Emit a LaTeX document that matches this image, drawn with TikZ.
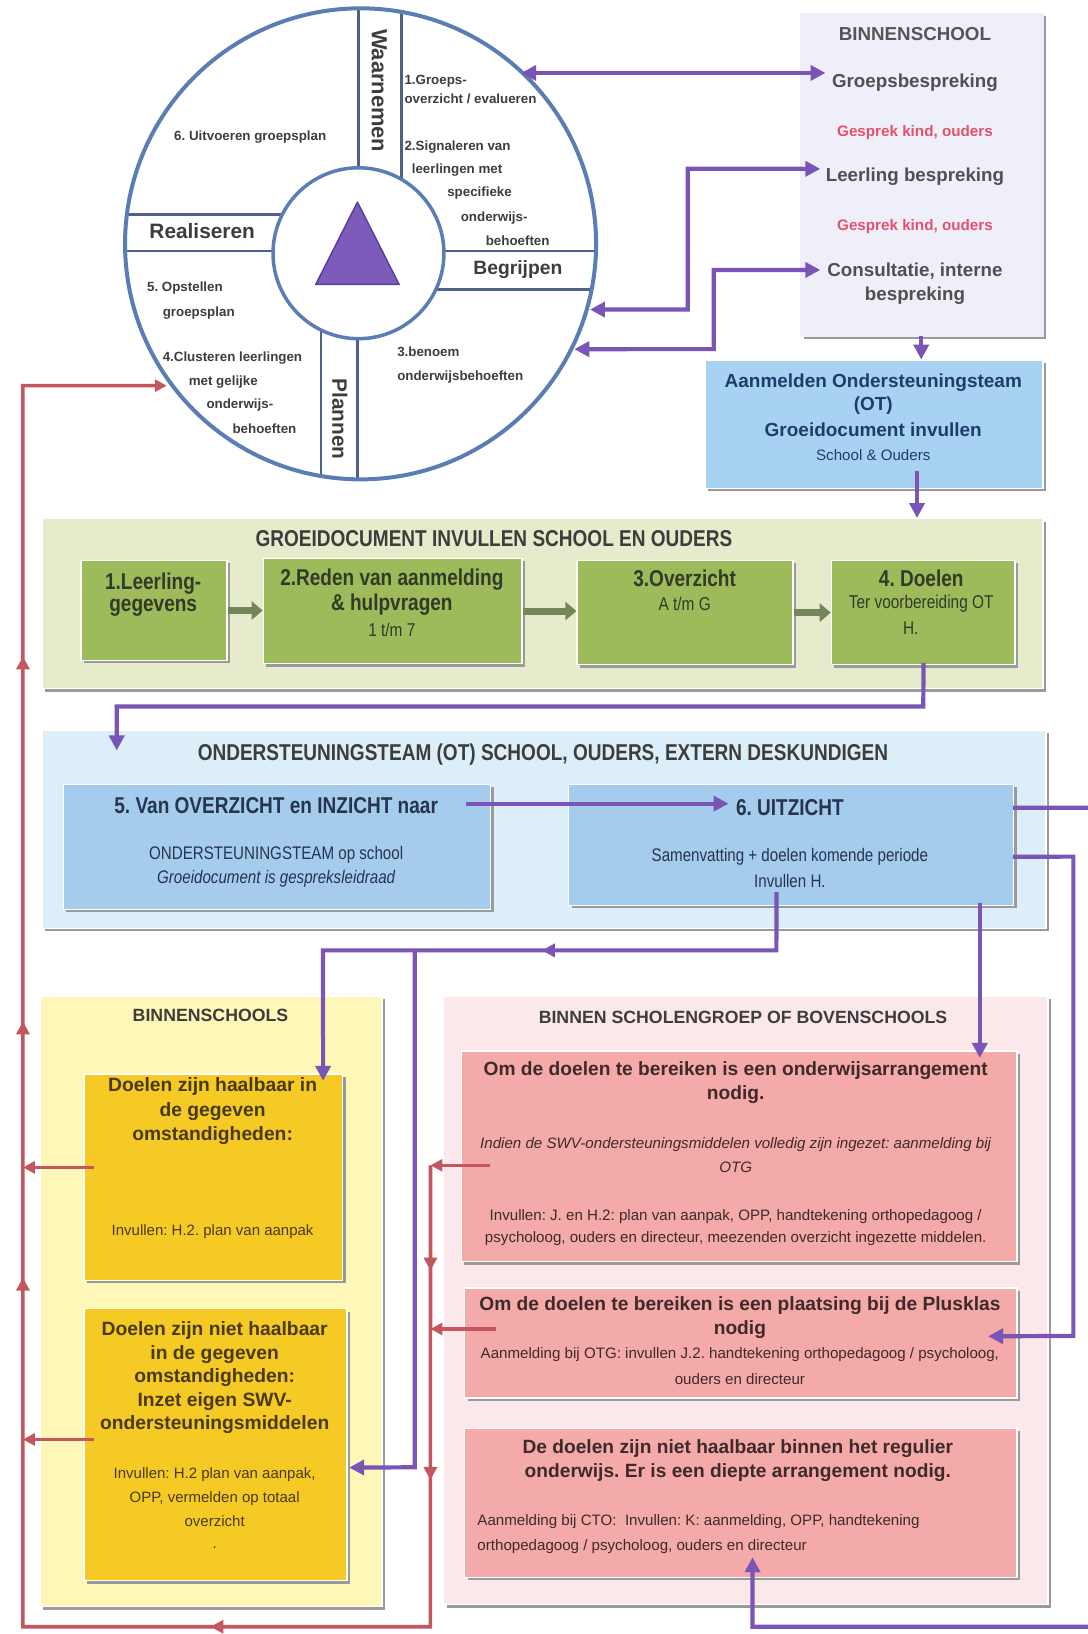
\documentclass[tikz,border=0pt]{standalone}
\usepackage{fontspec}
\setmainfont{Liberation Sans}
\newfontfamily\narrowfont[FakeStretch=0.83]{Liberation Sans}
\usetikzlibrary{arrows.meta,shadows,decorations.markings}
\definecolor{circblue}{HTML}{5A7DB3}
\definecolor{spokecol}{HTML}{4E6085}
\definecolor{purp}{HTML}{7A55B6}
\definecolor{redl}{HTML}{C4565F}
\definecolor{lav}{HTML}{EFEFFA}
\definecolor{aanblue}{HTML}{A7D2F1}
\definecolor{gdsec}{HTML}{E6EBCC}
\definecolor{gbox}{HTML}{9DBB5A}
\definecolor{garr}{HTML}{73865A}
\definecolor{otsec}{HTML}{DDEEFB}
\definecolor{otbox}{HTML}{A5CCEC}
\definecolor{ysec}{HTML}{FFF7B8}
\definecolor{ybox}{HTML}{F6CA24}
\definecolor{psec}{HTML}{FBE8EB}
\definecolor{pboxc}{HTML}{F3AAA8}
\definecolor{shgray}{HTML}{9A9A9A}
\definecolor{tgray}{HTML}{3D3D3D}
\definecolor{bgray}{HTML}{555555}
\definecolor{pinktxt}{HTML}{E4516C}
\definecolor{navy}{HTML}{1F3D6B}
\definecolor{ottxt}{HTML}{26344F}
\definecolor{ytxt}{HTML}{4A3A14}
\definecolor{ptxt}{HTML}{3F2A2A}
\definecolor{gtxt}{HTML}{343A28}
\definecolor{tripurp}{HTML}{7C5BBA}
\definecolor{tridark}{HTML}{5A3E98}
\newcommand\myfs[1]{\fontsize{#1}{#1}\selectfont}
\tikzset{
  panel/.style={draw=white, line width=1.5pt, inner sep=0pt, anchor=north west,
    drop shadow={shadow xshift=3pt, shadow yshift=-3pt, fill=shgray, opacity=1}},
  tx/.style={inner sep=0pt, text=tgray},
  cw/.style={tx, anchor=west, font=\bfseries\myfs{12.8}},
  bandlbl/.style={tx, font=\bfseries\myfs{20}},
  spoke/.style={draw=spokecol, line width=2.6pt},
  pline/.style={draw=purp, line width=4.2pt},
  ptip/.style={-{Triangle[length=15pt,width=15pt]}},
  pboth/.style={{Triangle[length=15pt,width=15pt]}-{Triangle[length=15pt,width=15pt]}},
  rline/.style={draw=redl, line width=3.6pt},
  rtip/.style={-{Triangle[length=12pt,width=12pt]}},
  garrow/.style={draw=garr, line width=7pt, -{Triangle[length=11pt,width=18pt]}},
  bintx/.style={tx, font=\bfseries\myfs{18}, text=tgray!90},
  gesp/.style={tx, font=\bfseries\myfs{14.6}, text=pinktxt},
  aantx/.style={tx, font=\bfseries\myfs{18.2}, text=navy},
  sectitle/.style={tx, font=\narrowfont\bfseries\myfs{22}},
  ghead/.style={tx, font=\narrowfont\bfseries\myfs{22}, text=gtxt},
  gsub/.style={tx, font=\narrowfont\myfs{17.8}, text=gtxt},
  othead/.style={tx, font=\narrowfont\bfseries\myfs{22}, text=ottxt},
  otsub/.style={tx, font=\narrowfont\myfs{17.5}, text=ottxt},
  yhead/.style={tx, font=\bfseries\myfs{18.5}, text=ytxt},
  ysub/.style={tx, font=\myfs{14.4}, text=ytxt},
  phead/.style={tx, font=\bfseries\myfs{18.4}, text=ptxt},
  psub/.style={tx, font=\myfs{14.5}, text=ptxt},
  marr/.style={postaction={decorate, decoration={markings,
     mark=at position #1 with {\arrow{Triangle[length=13pt,width=13pt]}}}}},
}
\begin{document}
\frenchspacing
\begin{tikzpicture}[x=1pt,y=-1pt,scale=1.04209,transform shape]
\useasboundingbox (0,0) rectangle (1044.05,1568);
\clip (0,0) rectangle (1044.05,1568);
\fill[white] (0,0) rectangle (1044.05,1568);

% ---------------- circle ----------------
\begin{scope}
  \clip (346,234) circle[radius=226];
  \draw[spoke] (344,0) -- (344,243);
  \draw[spoke] (385,0) -- (385,243);
  \draw[spoke] (308,243) -- (308,480);
  \draw[spoke] (343,243) -- (343,480);
  \draw[spoke] (100,206) -- (344,206);
  \draw[spoke] (100,241) -- (600,241);
  \draw[spoke] (344,278) -- (600,278);
\end{scope}
\node[circle, draw=circblue, line width=3.5pt, fill=white, minimum size=164pt, inner sep=0pt] (inner) at (344,243) {};
\filldraw[fill=tripurp, draw=tridark, line width=1.5pt, line join=round] (343,194) -- (303,273) -- (383,273) -- cycle;
\node[circle, draw=circblue, line width=4pt, minimum size=452pt, inner sep=0pt] (outer) at (346,234) {};

\node[bandlbl, rotate=-90, font=\bfseries\myfs{21}] (waar) at (364,87) {Waarnemen};
\node[bandlbl, rotate=-90] (plan) at (326,402) {Plannen};
\node[bandlbl] (real) at (194,222) {Realiseren};
\node[bandlbl, font=\bfseries\myfs{18.5}] (begr) at (497,259) {Begrijpen};

\node[cw] (c1a) at (388,78) {1.Groeps-};
\node[cw] (c1b) at (388,95) {overzicht / evalueren};
\node[cw] (c2a) at (388,141) {2.Signaleren van};
\node[cw] (c2b) at (395,163) {leerlingen met};
\node[cw] (c2c) at (429,185) {specifieke};
\node[cw] (c2d) at (442,209) {onderwijs-};
\node[cw] (c2e) at (466,231) {behoeften};
\node[cw] (c3a) at (381,338) {3.benoem};
\node[cw] (c3b) at (381,362) {onderwijsbehoeften};
\node[cw] (c4a) at (156,344) {4.Clusteren leerlingen};
\node[cw] (c4b) at (181,367) {met gelijke};
\node[cw] (c4c) at (198,389) {onderwijs-};
\node[cw] (c4d) at (223,411) {behoeften};
\node[cw] (c5a) at (141,276) {5. Opstellen};
\node[cw] (c5b) at (156,300) {groepsplan};
\node[cw] (c6) at (167,132) {6. Uitvoeren groepsplan};

% ---------------- BINNENSCHOOL ----------------
\node[panel, fill=lav, draw=lav, minimum width=232pt, minimum height=310pt] (bin) at (768,12) {};
\node[tx, font=\bfseries\myfs{18}, text=bgray] (bint) at (878,33) {BINNENSCHOOL};
\node[bintx] (gb) at (878,79) {Groepsbespreking};
\node[gesp] (gk1) at (878,127) {Gesprek kind, ouders};
\node[bintx] (lb) at (878,170) {Leerling bespreking};
\node[gesp] (gk2) at (878,217) {Gesprek kind, ouders};
\node[bintx, align=center, font=\bfseries\fontsize{18}{23}\selectfont] (co) at (878,272) {Consultatie, interne\\bespreking};

% ---------------- Aanmelden ----------------
\node[panel, fill=aanblue, minimum width=324pt, minimum height=123pt] (aan) at (676,345) {};
\node[aantx] (aan1) at (838,367) {Aanmelden Ondersteuningsteam};
\node[aantx] (aan2) at (838,389) {(OT)};
\node[aantx] (aan3) at (838,412) {Groeidocument invullen};
\node[tx, font=\myfs{14.5}, text=navy] (aan4) at (838,437) {School \& Ouders};

% ---------------- GROEIDOCUMENT ----------------
\node[panel, fill=gdsec, minimum width=960pt, minimum height=163pt] (gd) at (40,497) {};
\node[sectitle] (gdt) at (474,517) {GROEIDOCUMENT INVULLEN SCHOOL EN OUDERS};
\node[panel, fill=gbox, minimum width=140pt, minimum height=96pt] (g1) at (77,537) {};
\node[panel, fill=gbox, minimum width=248pt, minimum height=101pt] (g2) at (252,535) {};
\node[panel, fill=gbox, minimum width=207pt, minimum height=100pt] (g3) at (553,537) {};
\node[panel, fill=gbox, minimum width=176pt, minimum height=100pt] (g4) at (797,537) {};
\node[ghead] (g1a) at (147,560) {1.Leerling-};
\node[ghead] (g1b) at (147,583) {gegevens};
\node[ghead] (g2a) at (376,556) {2.Reden van aanmelding};
\node[ghead] (g2b) at (376,580) {\& hulpvragen};
\node[gsub] (g2c) at (376,604) {1 t/m 7};
\node[ghead] (g3a) at (657,555) {3.Overzicht};
\node[gsub] (g3b) at (657,579) {A t/m G};
\node[ghead] (g4a) at (884,555) {4. Doelen};
\node[gsub] (g4b) at (884,579) {Ter voorbereiding OT};
\node[gsub] (g4c) at (874,603) {H.};
\draw[garrow] (g1.east) -- (g1.east -| g2.west);
\draw[garrow] (g2.east) -- (g2.east -| g3.west);
\draw[garrow] (g3.east) -- (g3.east -| g4.west);

% ---------------- OT ----------------
\node[panel, fill=otsec, minimum width=963pt, minimum height=190pt] (ot) at (40,700) {};
\node[sectitle] (ott) at (521,724) {ONDERSTEUNINGSTEAM (OT) SCHOOL, OUDERS, EXTERN DESKUNDIGEN};
\node[panel, fill=otbox, minimum width=410pt, minimum height=120pt] (b5) at (60,752) {};
\node[panel, fill=otbox, minimum width=427pt, minimum height=116pt] (b6) at (545,752) {};
\node[othead] (b5a) at (265,773) {5. Van OVERZICHT en INZICHT naar};
\node[otsub] (b5b) at (265,820) {ONDERSTEUNINGSTEAM op school};
\node[otsub, font=\narrowfont\itshape\myfs{17.5}] (b5c) at (265,843) {Groeidocument is gespreksleidraad};
\node[othead] (b6a) at (758,775) {6. UITZICHT};
\node[otsub] (b6b) at (758,822) {Samenvatting + doelen komende periode};
\node[otsub] (b6c) at (758,845) {Invullen H.};

% ---------------- BINNENSCHOOLS (yellow) ----------------
\node[panel, fill=ysec, minimum width=328pt, minimum height=586pt] (ys) at (38,955) {};
\node[tx, font=\bfseries\myfs{17}] (yst) at (202,974) {BINNENSCHOOLS};
\node[panel, fill=ybox, minimum width=248pt, minimum height=198pt] (y1) at (80,1030) {};
\node[panel, fill=ybox, minimum width=252pt, minimum height=261pt] (y2) at (80,1255) {};
\node[yhead] (y1a) at (204,1043) {Doelen zijn haalbaar in};
\node[yhead] (y1b) at (204,1067) {de gegeven};
\node[yhead] (y1c) at (204,1090) {omstandigheden:};
\node[ysub] (y1d) at (204,1182) {Invullen: H.2. plan van aanpak};
\node[yhead] (y2a) at (206,1277) {Doelen zijn niet haalbaar};
\node[yhead] (y2b) at (206,1300) {in de gegeven};
\node[yhead] (y2c) at (206,1322) {omstandigheden:};
\node[yhead] (y2d) at (206,1345) {Inzet eigen SWV-};
\node[yhead] (y2e) at (206,1367) {ondersteuningsmiddelen};
\node[ysub] (y2f) at (206,1415) {Invullen: H.2 plan van aanpak,};
\node[ysub] (y2g) at (206,1438) {OPP, vermelden op totaal};
\node[ysub] (y2h) at (206,1460) {overzicht};
\node[ysub] (y2i) at (206,1485) {.};

% ---------------- BINNEN SCHOLENGROEP (pink) ----------------
\node[panel, fill=psec, minimum width=580pt, minimum height=584pt] (ps) at (425,955) {};
\node[tx, font=\bfseries\myfs{17}] (pst) at (713,976) {BINNEN SCHOLENGROEP OF BOVENSCHOOLS};
\node[panel, fill=pboxc, minimum width=533pt, minimum height=202pt] (p1) at (442,1008) {};
\node[panel, fill=pboxc, minimum width=530pt, minimum height=106pt] (p2) at (445,1235) {};
\node[panel, fill=pboxc, minimum width=530pt, minimum height=143pt] (p3) at (445,1370) {};
\node[phead] (p1a) at (706,1027) {Om de doelen te bereiken is een onderwijsarrangement};
\node[phead] (p1b) at (706,1050) {nodig.};
\node[psub, font=\itshape\myfs{14.5}] (p1c) at (706,1098) {Indien de SWV-ondersteuningsmiddelen volledig zijn ingezet: aanmelding bij};
\node[psub, font=\itshape\myfs{14.5}] (p1d) at (706,1120) {OTG};
\node[psub] (p1e) at (706,1167) {Invullen: J. en H.2: plan van aanpak, OPP, handtekening orthopedagoog /};
\node[psub] (p1f) at (706,1189) {psycholoog, ouders en directeur, meezenden overzicht ingezette middelen.};
\node[phead] (p2a) at (710,1253) {Om de doelen te bereiken is een plaatsing bij de Plusklas};
\node[phead] (p2b) at (710,1276) {nodig};
\node[psub] (p2c) at (710,1300) {Aanmelding bij OTG: invullen J.2. handtekening orthopedagoog / psycholoog,};
\node[psub] (p2d) at (710,1323) {ouders en directeur};
\node[phead] (p3a) at (708,1390) {De doelen zijn niet haalbaar binnen het regulier};
\node[phead] (p3b) at (708,1413) {onderwijs. Er is een diepte arrangement nodig.};
\node[psub, anchor=west] (p3c) at (458,1460) {Aanmelding bij CTO:\ \ Invullen: K: aanmelding, OPP, handtekening};
\node[psub, anchor=west] (p3d) at (458,1484) {orthopedagoog / psycholoog, ouders en directeur};

% ---------------- purple connectors ----------------
\coordinate (cA) at (500,70);
\coordinate (bA) at (792,70);
\coordinate (cB) at (566,297);
\coordinate (bB) at (787,162);
\coordinate (cC) at (551,335);
\coordinate (bC) at (787,259);
\draw[pline, pboth] (cA) -- (bA);
\draw[pline, pboth] (cB) -- (660,297) -- (660,162) -- (bB);
\draw[pline, pboth] (cC) -- (685,335) -- (685,259) -- (bC);
\draw[pline, ptip] (884,322) -- (aan.north -| 884,322);
\draw[pline, ptip] (880,452) -- (gd.north -| 880,452);
\coordinate (g4s) at (886,636);
\coordinate (b5in) at (112,720);
\draw[pline, ptip] (g4s) -- (886,678) -- (112,678) -- (b5in);
\coordinate (b5o) at (447,771);
\coordinate (b6i) at (699,771);
\draw[pline, ptip] (b5o) -- (b6i);
% to the right edge and back to box 3
\coordinate (b6r1) at (972,775);
\coordinate (p3in) at (722,1494);
\draw[pline, ptip] (b6r1) -- (1110,775) -- (1110,1561) -- (722,1561) -- (p3in);
% to Plusklas
\coordinate (b6r2) at (972,822);
\coordinate (p2in) at (948,1282);
\draw[pline, ptip] (b6r2) -- (1030,822) -- (1030,1282) -- (p2in);
% to box p1
\coordinate (b6b1) at (940,866);
\coordinate (p1in) at (940,1015);
\draw[pline, ptip] (b6b1) -- (p1in);
% to yellow boxes
\coordinate (b6b2) at (745,856);
\coordinate (y1in) at (310,1037);
\coordinate (jp) at (398,912);
\coordinate (y2in) at (335,1408);
\draw[pline, ptip, marr=0.456] (b6b2) -- (745,912) -- (310,912) -- (y1in);
\draw[pline, ptip] (jp) -- (398,1408) -- (y2in);

% ---------------- red connectors ----------------
\coordinate (rj1) at (413,1118);
\coordinate (cD) at (160,370);
\draw[rline, rtip, marr=0.0467, marr=0.1396, marr=0.3023, marr=0.5404, marr=0.6541, marr=0.8160]
   (rj1) -- (413,1561) -- (22,1561) -- (22,370) -- (cD);
\coordinate (p1o) at (470,1118);
\coordinate (p2o) at (476,1275);
\coordinate (rj2) at (413,1275);
\draw[rline, rtip] (p1o) -- (rj1);
\draw[rline, rtip] (p2o) -- (rj2);
\coordinate (y1o) at (90,1120);
\coordinate (y2o) at (90,1381);
\coordinate (lj1) at (22,1120);
\coordinate (lj2) at (22,1381);
\draw[rline, rtip] (y1o) -- (lj1);
\draw[rline, rtip] (y2o) -- (lj2);
\end{tikzpicture}
\end{document}
